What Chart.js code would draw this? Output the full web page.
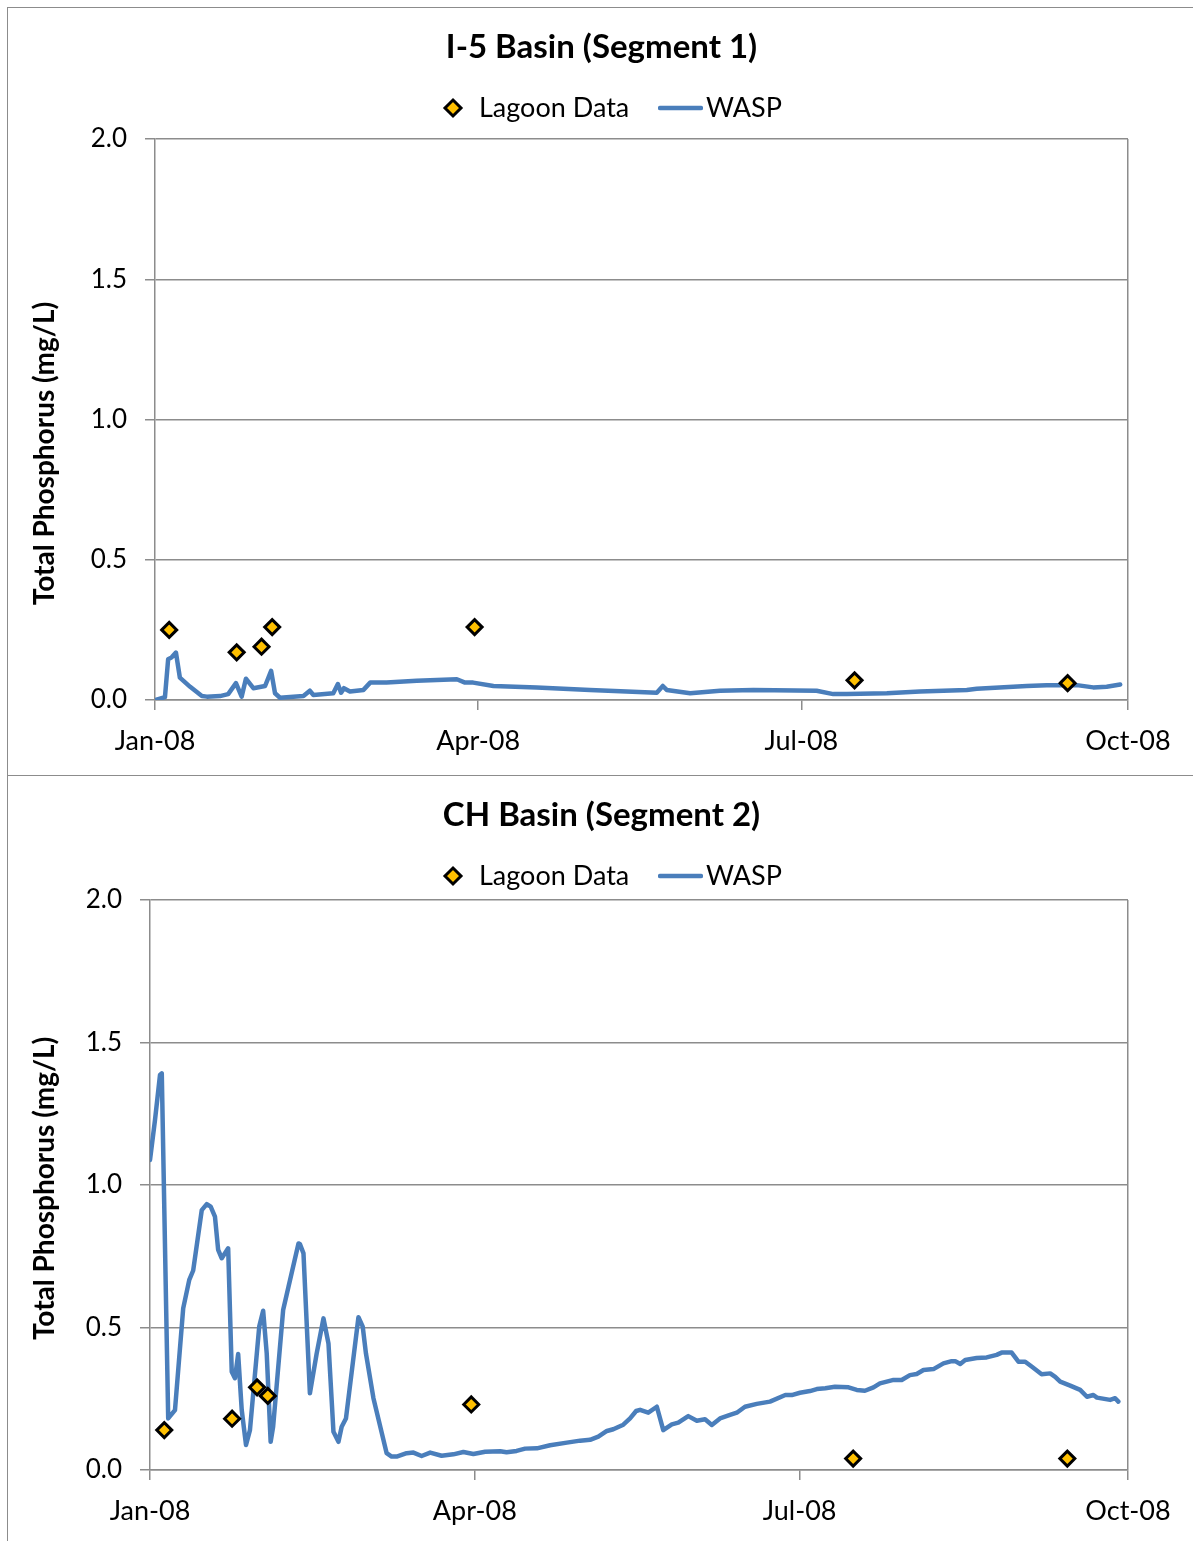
<!DOCTYPE html>
<html>
<head>
<meta charset="utf-8">
<script src="https://cdn.jsdelivr.net/npm/chart.js@4.4.1/dist/chart.umd.min.js"></script>
<style>
  body { margin: 0; background: #fff; font-family: Lato, sans-serif; overflow: hidden; }
  .frame { position: absolute; left: 7px; width: 1200px; border: 1px solid #8c8c8c; box-sizing: border-box; }
  .panel { position: absolute; left: 0; width: 1203px; }
  .panel canvas { position: absolute; left: 0; top: 0; }
  .lg { position: absolute; font: 27px Lato, sans-serif; color: #000; line-height: 30px; white-space: nowrap; }
</style>
</head>
<body>
<div class="frame" style="top:7px;height:769px"></div>
<div class="frame" style="top:775px;height:800px"></div>

<div class="panel" id="panel1" style="top:0;height:775px"><canvas id="chart1" width="1203" height="775"></canvas></div>
<div class="panel" id="panel2" style="top:775px;height:766px"><canvas id="chart2" width="1203" height="766"></canvas></div>

<script>
// gunler: 1 Ocak 2008'den itibaren gecen gun sayisi
const sampleDays = [4, 23, 30, 33, 90, 197, 257];
const lagoonSeg1 = [0.25, 0.17, 0.19, 0.26, 0.26, 0.07, 0.06];
const lagoonSeg2 = [0.14, 0.18, 0.29, 0.26, 0.23, 0.04, 0.04];

// WASP model sonuclari - Segment 1
const waspDays1 = [0, 2.8, 3.7, 4.7, 5.9, 7.0, 9.9, 13.2, 14.6, 18.3, 20.6, 22.8, 24.4, 25.6, 27.7, 31.0, 32.7, 33.8, 35.2,
  41.8, 43.6, 44.6, 50.2, 51.5, 52.4, 53.2, 54.9, 58.7, 60.6, 65.2, 73.7, 85.0, 87.3, 89.6, 95.3, 107.5, 122.5, 141.3,
  143.0, 144.1, 150.7, 159.1, 168.5, 186.3, 191.0, 194.8, 206.1, 215.4, 228.6, 231.4, 245.5, 251.1, 259.6, 264.2, 268.0, 271.8];
const waspSeg1 = [0.00, 0.01, 0.145, 0.152, 0.169, 0.08, 0.047, 0.014, 0.012, 0.014, 0.021, 0.06, 0.012, 0.076, 0.042, 0.05, 0.104, 0.024, 0.008,
  0.014, 0.033, 0.018, 0.024, 0.057, 0.026, 0.042, 0.03, 0.036, 0.062, 0.062, 0.069, 0.074, 0.062, 0.062, 0.05, 0.045, 0.036, 0.026,
  0.05, 0.036, 0.024, 0.033, 0.036, 0.033, 0.021, 0.021, 0.024, 0.03, 0.036, 0.04, 0.05, 0.053, 0.053, 0.045, 0.047, 0.055];

// WASP model sonuclari - Segment 2
const waspDays2 = [0, 1.4, 2.8, 3.3, 5.1, 7.0, 9.3, 11.0, 12.1, 14.5, 15.9, 17.0, 18.2, 19.1, 20.1, 21.9, 22.9, 23.8, 24.7,
  25.7, 26.9, 28.0, 30.6, 31.7, 32.7, 33.8, 34.5, 37.3, 38.8, 41.6, 42.0, 43.0, 44.8, 46.7, 48.6, 50.0, 51.4, 52.8, 53.7,
  54.9, 58.4, 59.6, 60.5, 62.6, 66.3, 67.7, 69.1, 71.9, 73.8, 76.1, 78.5, 81.7, 85.0, 87.8, 90.6, 93.9, 98.1, 99.9, 102.7,
  105.1, 108.4, 112.1, 116.8, 120.5, 123.3, 125.6, 128.0, 129.8, 132.6, 134.5, 136.2, 137.3, 139.6, 142.0, 143.8, 146.2,
  148.0, 150.8, 153.2, 155.5, 157.4, 159.7, 162.5, 164.4, 166.7, 170.0, 173.7, 178.0, 179.8, 182.1, 184.9, 186.8, 189.2,
  191.9, 195.7, 198.0, 200.3, 202.7, 204.5, 208.3, 210.6, 212.9, 214.8, 216.7, 219.5, 222.3, 224.6, 225.6, 227.0, 228.4,
  231.6, 234.4, 237.2, 238.6, 241.4, 243.3, 245.2, 247.0, 249.8, 252.2, 253.6, 255.0, 257.8, 260.6, 262.5, 264.3, 265.3,
  269.0, 270.4, 271.3];
const waspSeg2 = [1.088, 1.228, 1.386, 1.392, 0.181, 0.21, 0.567, 0.667, 0.70, 0.912, 0.933, 0.924, 0.889, 0.772, 0.743, 0.778, 0.345, 0.322, 0.407,
  0.21, 0.088, 0.14, 0.503, 0.559, 0.409, 0.099, 0.152, 0.561, 0.643, 0.795, 0.793, 0.76, 0.269, 0.409, 0.532, 0.444, 0.134, 0.099, 0.152,
  0.181, 0.536, 0.503, 0.409, 0.252, 0.059, 0.047, 0.047, 0.059, 0.061, 0.049, 0.061, 0.05, 0.055, 0.063, 0.056, 0.064, 0.066, 0.062, 0.067,
  0.075, 0.076, 0.087, 0.096, 0.103, 0.106, 0.117, 0.137, 0.143, 0.159, 0.181, 0.207, 0.211, 0.201, 0.222, 0.14, 0.16,
  0.166, 0.189, 0.173, 0.178, 0.158, 0.181, 0.193, 0.201, 0.222, 0.232, 0.24, 0.263, 0.263, 0.271, 0.277, 0.284, 0.287,
  0.292, 0.29, 0.281, 0.278, 0.29, 0.304, 0.316, 0.316, 0.333, 0.337, 0.351, 0.354, 0.374, 0.382, 0.382, 0.372, 0.386,
  0.393, 0.395, 0.404, 0.412, 0.412, 0.38, 0.38, 0.363, 0.336, 0.339, 0.327, 0.31, 0.296, 0.281, 0.257, 0.263, 0.254,
  0.246, 0.252, 0.24];

// eksen etiketleri
const tickDays = [0, 91, 182, 274];
const tickLabels = ['Jan-08', 'Apr-08', 'Jul-08', 'Oct-08'];
const yMin = 0, yMax = 2, yStep = 0.5;
const yTitle = 'Total Phosphorus (mg/L)';

const gridGray = '#8c8c8c';
const font = 'Lato';
const canvasWidth = 1203;

const toXY = (pDays, pValues) => pDays.map((d, i) => ({ x: d, y: pValues[i] }));

// legend html olarak (excel'deki gibi uzun cizgi ornegi icin)
const legendPos = { diamond: 453, text1: 479, lineFrom: 658, lineTo: 703, text2: 706 };

const buildLegend = (pPanel, pDatasets, pY) => {
  const panel = document.getElementById(pPanel);
  const lag = pDatasets[0];
  const wasp = pDatasets[1];
  panel.insertAdjacentHTML('beforeend', `
    <svg style="position:absolute;left:${legendPos.diamond - 11}px;top:${pY - 11}px" width="22" height="22">
      <polygon points="11,3 19,11 11,19 3,11" fill="${lag.backgroundColor}" stroke="${lag.borderColor}" stroke-width="3"/>
    </svg>
    <div class="lg" style="left:${legendPos.text1}px;top:${pY - 16}px">${lag.label}</div>
    <svg style="position:absolute;left:${legendPos.lineFrom}px;top:${pY - 5}px" width="${legendPos.lineTo - legendPos.lineFrom}" height="10">
      <line x1="2" y1="5" x2="${legendPos.lineTo - legendPos.lineFrom - 2}" y2="5" stroke="${wasp.borderColor}" stroke-width="4.5" stroke-linecap="round"/>
    </svg>
    <div class="lg" style="left:${legendPos.text2}px;top:${pY - 16}px">${wasp.label}</div>
  `);
};

const renderChart = (pId, pPanel, pTitle, pLagoon, pDays, pWasp, pBox) => {
  const datasets = [
    {
      label: 'Lagoon Data',
      data: toXY(sampleDays, pLagoon),
      showLine: false,
      pointStyle: 'rectRot',
      pointRadius: 7.5,
      pointHoverRadius: 7.5,
      backgroundColor: '#FFC000',
      borderColor: '#000000',
      borderWidth: 3,
    },
    {
      label: 'WASP',
      data: toXY(pDays, pWasp),
      showLine: true,
      borderColor: '#4A7EBB',
      backgroundColor: '#4A7EBB',
      borderWidth: 4.5,
      pointRadius: 0,
      tension: 0,
      borderJoinStyle: 'round',
      borderCapStyle: 'round',
    }
  ];

  new Chart(document.getElementById(pId), {
    type: 'scatter',
    data: { datasets: datasets },
    options: {
      responsive: false,
      animation: false,
      devicePixelRatio: 1,
      layout: { padding: 0 },
      plugins: {
        legend: { display: false },
        tooltip: { enabled: false },
        title: {
          display: true,
          text: pTitle,
          color: '#000',
          font: { family: font, size: 33, weight: 'bold' },
          padding: { top: pBox.titleY - 19.8, bottom: pBox.plotTop - pBox.titleY - 19.8 },
        }
      },
      scales: {
        x: {
          type: 'linear',
          min: tickDays[0],
          max: tickDays[tickDays.length - 1],
          afterBuildTicks: axis => { axis.ticks = tickDays.map(v => ({ value: v })); },
          afterFit: scale => { scale.height = pBox.height - pBox.plotBottom; },
          ticks: {
            autoSkip: false,
            maxRotation: 0,
            padding: 15,
            color: '#000',
            font: { family: font, size: 27 },
            callback: v => tickLabels[tickDays.indexOf(v)],
          },
          grid: {
            drawOnChartArea: true,
            color: ctx => (ctx.tick && ctx.tick.value === tickDays[tickDays.length - 1]) ? gridGray : 'transparent',
            tickColor: gridGray,
            tickLength: 10,
            lineWidth: 1.5,
          },
          border: { display: true, color: gridGray, width: 1.5 },
        },
        y: {
          min: yMin,
          max: yMax,
          afterFit: scale => { scale.width = pBox.plotLeft; },
          ticks: {
            stepSize: yStep,
            padding: 18,
            color: '#000',
            font: { family: font, size: 26 },
            callback: v => v.toFixed(1),
          },
          grid: { color: gridGray, tickColor: gridGray, tickLength: 10, lineWidth: 1.5 },
          border: { display: true, color: gridGray, width: 1.5 },
          title: {
            display: true,
            // excel'de baslik biraz asagi kaydirilmis, bosluklarla ayni etkiyi veriyoruz
            text: yTitle + ' '.repeat(pBox.titleSpaces),
            color: '#000',
            font: { family: font, size: 28, weight: 'bold' },
            padding: { top: 28, bottom: 0 },
          }
        },
        // sag taraftaki bos alan (baslik tum genislige gore ortalansin diye)
        yRight: {
          position: 'right',
          display: true,
          afterFit: scale => { scale.width = canvasWidth - pBox.plotRight; },
          ticks: { display: false },
          grid: { display: false, drawTicks: false },
          border: { display: false },
        }
      }
    }
  });

  buildLegend(pPanel, datasets, pBox.legendY);
};

renderChart('chart1', 'panel1', 'I-5 Basin (Segment 1)', lagoonSeg1, waspDays1, waspSeg1,
  { height: 775, plotLeft: 155, plotRight: 1128, plotTop: 139, plotBottom: 700, titleY: 47, legendY: 108, titleSpaces: 10 });
renderChart('chart2', 'panel2', 'CH Basin (Segment 2)', lagoonSeg2, waspDays2, waspSeg2,
  { height: 766, plotLeft: 150, plotRight: 1128, plotTop: 125, plotBottom: 695, titleY: 40, legendY: 101, titleSpaces: 1 });
</script>
</body>
</html>
